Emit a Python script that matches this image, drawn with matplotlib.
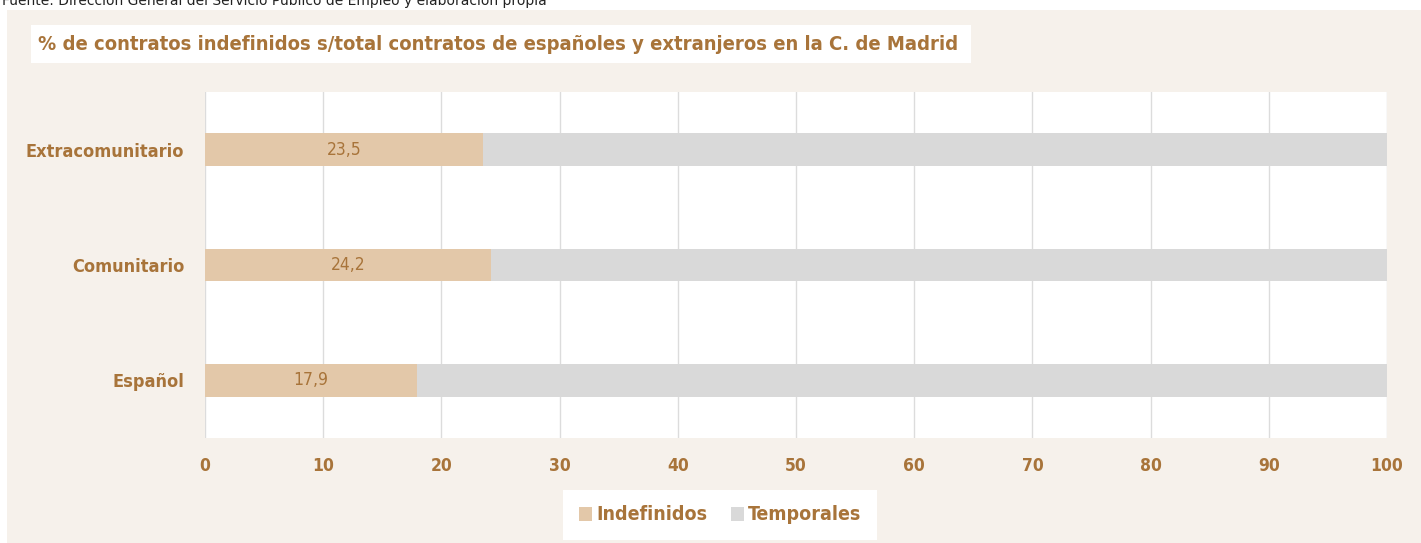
import matplotlib.pyplot as plt
from matplotlib.patches import Rectangle
import numpy as np

# ---- data ------------------------------------------------------------------
categories = ["Español", "Comunitario", "Extracomunitario"]
indefinidos = [17.9, 24.2, 23.5]
temporales = [100 - v for v in indefinidos]
series_labels = ["Indefinidos", "Temporales"]
x_ticks = list(range(0, 101, 10))

title = "% de contratos indefinidos s/total contratos de españoles y extranjeros en la C. de Madrid"
source = "Fuente: Dirección General del Servicio Público de Empleo y elaboración propia"

# ---- style -----------------------------------------------------------------
BROWN = "#A8743A"
C_IND = "#E3C8A9"
C_TMP = "#D9D9D9"
BEIGE = "#F6F1EB"
GRID = "#DCDCDC"
FONT = dict(family="DejaVu Sans", stretch="condensed")

W, H = 1421, 543
fig = plt.figure(figsize=(W / 100, H / 100), dpi=100, facecolor="white")

# beige panel behind everything
fig.patches.append(Rectangle((7 / W, 0), 1 - 7 / W, (H - 10) / H,
                             transform=fig.transFigure, facecolor=BEIGE,
                             edgecolor="none", zorder=-10))
# source line, clipped by the top edge as in the original
fig.text(2 / W, 1 - 5 / H, source, fontsize=10, color="#222222",
         va="baseline", ha="left")

# title in a white box
fig.patches.append(Rectangle((31 / W, 1 - 63 / H), (971 - 31) / W, 38 / H,
                             transform=fig.transFigure, facecolor="white",
                             edgecolor="none", zorder=-5))
fig.text(38 / W, 1 - 45 / H, title, fontsize=14.5, fontweight="bold", color=BROWN,
         va="center", ha="left", zorder=2, **FONT)

ax = fig.add_axes([205 / W, (H - 438) / H, (1387 - 205) / W, (438 - 92) / H])
ax.set_facecolor("white")
ax.set_zorder(2)

y = np.arange(len(categories))
h = 0.285
ax.barh(y, indefinidos, height=h, color=C_IND, label=series_labels[0], zorder=3)
ax.barh(y, temporales, left=indefinidos, height=h, color=C_TMP,
        label=series_labels[1], zorder=3)

for yi, v in zip(y, indefinidos):
    ax.text(v / 2, yi, f"{v:.1f}".replace(".", ","), ha="center", va="center",
            fontsize=12.5, color=BROWN, zorder=4, **FONT)

ax.set_xlim(0, 100)
ax.set_ylim(-0.5, 2.5)
ax.set_xticks(x_ticks)
ax.set_yticks(y)
ax.set_yticklabels(categories)
ax.grid(axis="x", color=GRID, lw=1, zorder=0)
ax.set_axisbelow(True)
for s in ax.spines.values():
    s.set_visible(False)
ax.tick_params(length=0)
ax.tick_params(axis="x", pad=14)
ax.tick_params(axis="y", pad=15)
for lab in ax.get_xticklabels() + ax.get_yticklabels():
    lab.set_fontweight("bold"); lab.set_color(BROWN)
    lab.set_family(FONT["family"]); lab.set_stretch(FONT["stretch"])
for lab in ax.get_xticklabels():
    lab.set_fontsize(12.5)
for lab in ax.get_yticklabels():
    lab.set_fontsize(13)

leg = fig.legend(loc="center", bbox_to_anchor=(720 / W, 1 - 515 / H), ncol=2,
                 frameon=True, fancybox=False, handlelength=0.7, handleheight=0.7,
                 handletextpad=0.2, columnspacing=1.2, borderpad=0.8,
                 prop={"family": "DejaVu Sans", "stretch": "condensed",
                       "weight": "bold", "size": 14})
leg.get_frame().set_facecolor("white")
leg.get_frame().set_edgecolor("none")
leg.get_frame().set_alpha(1)
for t in leg.get_texts():
    t.set_color(BROWN)

fig.savefig("out.png", dpi=100, facecolor="white")
